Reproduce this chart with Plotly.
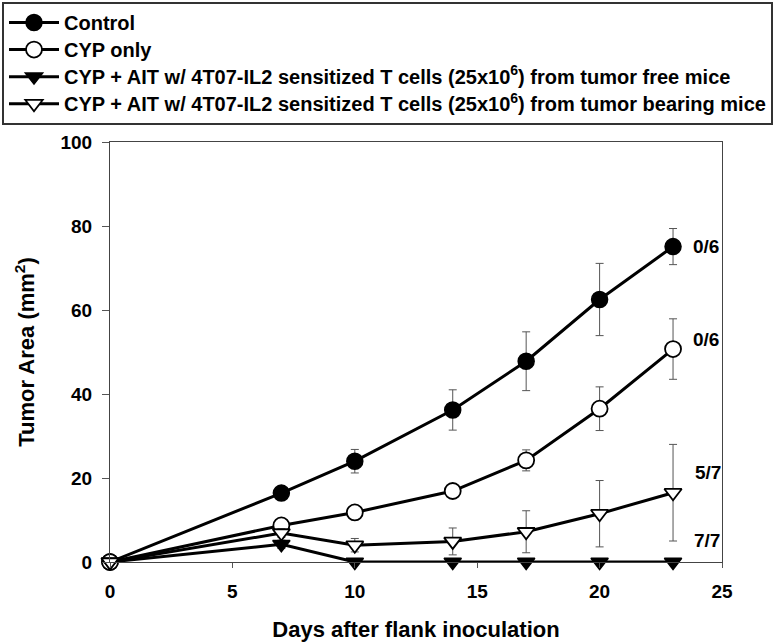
import plotly.graph_objects as go

days = [0, 7, 10, 14, 17, 20, 23]

control = [0, 16.4, 24.0, 36.2, 47.8, 62.5, 75.1]
control_err = [0, 1.2, 2.8, 4.8, 7.0, 8.6, 4.3]

cyp_only = [0, 8.7, 11.8, 16.9, 24.2, 36.5, 50.7]
cyp_only_err = [0, 0.8, 1.0, 1.0, 2.5, 5.2, 7.2]

tumor_free = [0, 4.2, 0, 0, 0, 0, 0]
tumor_free_err = [0, 1.0, 0, 0, 0, 0, 0]

tumor_bearing = [0, 6.9, 4.0, 4.9, 7.2, 11.5, 16.5]
tumor_bearing_err = [0, 1.0, 1.6, 3.2, 5.0, 7.9, 11.5]

series_names = [
    "Control",
    "CYP only",
    "CYP + AIT w/ 4T07-IL2 sensitized T cells (25x10<sup>6</sup>) from tumor free mice",
    "CYP + AIT w/ 4T07-IL2 sensitized T cells (25x10<sup>6</sup>) from tumor bearing mice",
]

ratio_labels = ["0/6", "0/6", "5/7", "7/7"]
ratio_x = [24.35, 24.35, 24.43, 24.4]
ratio_y = [75.2, 52.9, 21.2, 5.2]

FONT = "Arial, 'Liberation Sans', sans-serif"

styles = [
    dict(symbol="circle", color="black", size=16, line=dict(color="black", width=1.5)),
    dict(symbol="circle", color="white", size=16, line=dict(color="black", width=1.8)),
    dict(symbol="triangle-down", color="black", size=15, line=dict(color="black", width=1.5)),
    dict(symbol="triangle-down", color="white", size=15, line=dict(color="black", width=1.8)),
]

values = [control, cyp_only, tumor_free, tumor_bearing]
errors = [control_err, cyp_only_err, tumor_free_err, tumor_bearing_err]

fig = go.Figure()
for name, yv, ev, st in zip(series_names, values, errors, styles):
    fig.add_trace(go.Scatter(
        x=days, y=yv, name='<span style="font-size:20px">%s</span>' % name,
        mode="lines+markers",
        line=dict(color="black", width=3),
        marker=st,
        error_y=dict(type="data", array=ev, visible=True, color="#555555",
                     thickness=1, width=4),
        cliponaxis=False,
    ))

for t, xv, yv in zip(ratio_labels, ratio_x, ratio_y):
    fig.add_annotation(x=xv, y=yv, xref="x", yref="y", text="<b>%s</b>" % t,
                       showarrow=False, font=dict(family=FONT, size=19, color="black"))

# plot area in pixels: x 110..722, y 142..562
fig.update_layout(
    width=774, height=642,
    margin=dict(l=110, r=52, t=142, b=80, autoexpand=False),
    paper_bgcolor="white", plot_bgcolor="white",
    font=dict(family=FONT, color="black"),
    showlegend=True,
    legend=dict(
        xref="paper", yref="paper",
        x=(2 - 110) / 612, y=1 + (142 - 2) / 420,
        xanchor="left", yanchor="top",
        bordercolor="#333333", borderwidth=2, bgcolor="white",
        font=dict(family=FONT, size=18.5, color="black", weight="bold"),
        itemwidth=50, tracegroupgap=0,
    ),
    xaxis=dict(
        range=[0, 25], tickvals=[0, 5, 10, 15, 20, 25],
        ticks="outside", ticklen=5, tickcolor="#555555",
        ticklabelstandoff=7,
        showline=True, linecolor="#444444", linewidth=1, mirror=True,
        showgrid=False, zeroline=False,
        tickfont=dict(family=FONT, size=19, weight="bold"),
        title=dict(text="<b>Days after flank inoculation</b>",
                   font=dict(family=FONT, size=22), standoff=22),
    ),
    yaxis=dict(
        range=[0, 100], tickvals=[0, 20, 40, 60, 80, 100],
        ticks="outside", ticklen=7, tickcolor="#555555",
        ticklabelstandoff=6,
        showline=True, linecolor="#444444", linewidth=1, mirror=True,
        showgrid=False, zeroline=False,
        tickfont=dict(family=FONT, size=19, weight="bold"),
        title=dict(text="<b>Tumor Area (mm<sup>2</sup>)</b>",
                   font=dict(family=FONT, size=22), standoff=19),
    ),
)

fig.write_html("out.html", config={"displayModeBar": False},
               post_script="document.body.style.margin='0';")
